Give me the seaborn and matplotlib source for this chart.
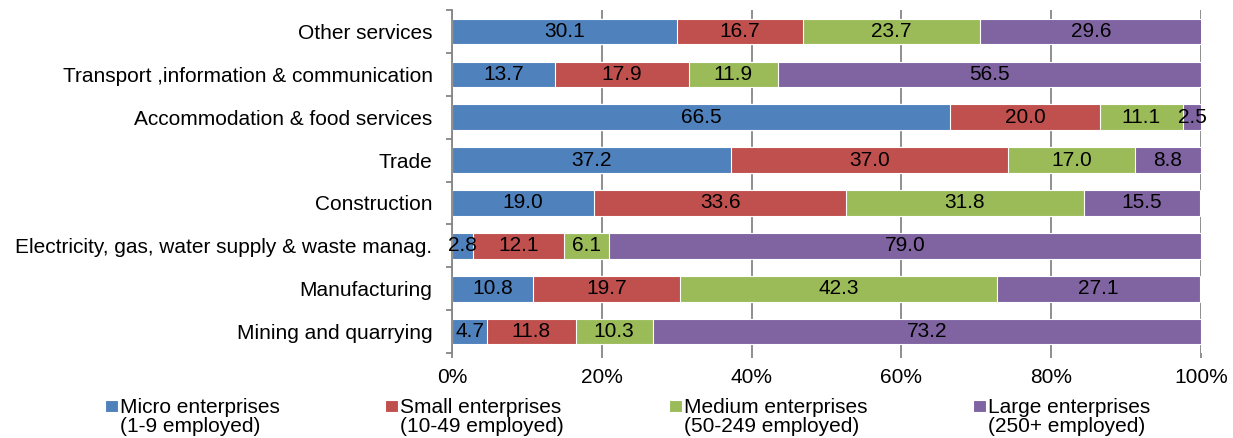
import matplotlib.pyplot as plt
import seaborn as sns
import numpy as np

# sectors, top to bottom as in the chart
sectors = ["Other services",
           "Transport ,information & communication",
           "Accommodation & food services",
           "Trade",
           "Construction",
           "Electricity, gas, water supply & waste manag.",
           "Manufacturing",
           "Mining and quarrying"]

micro = [30.1, 13.7, 66.5, 37.2, 19.0, 2.8, 10.8, 4.7]
small = [16.7, 17.9, 20.0, 37.0, 33.6, 12.1, 19.7, 11.8]
medium = [23.7, 11.9, 11.1, 17.0, 31.8, 6.1, 42.3, 10.3]
large = [29.6, 56.5, 2.5, 8.8, 15.5, 79.0, 27.1, 73.2]

series_labels = ["Micro enterprises\n(1-9 employed)",
                 "Small enterprises\n(10-49 employed)",
                 "Medium enterprises\n(50-249 employed)",
                 "Large enterprises\n(250+ employed)"]
colors = ["#4F81BD", "#C0504D", "#9BBB59", "#8064A2"]

sns.set_theme(style="white")
plt.rcParams['font.family'] = ['Liberation Sans', 'DejaVu Sans']
fs = 15
grey = "#868686"

parts = np.array([micro, small, medium, large])
cum = np.cumsum(parts, axis=0)

fig = plt.figure(figsize=(12.33, 4.38), dpi=100)
ax = fig.add_axes([0.3666, 0.194, 0.6074, 0.783])

# stacked bars: draw cumulative totals, largest first
for i in reversed(range(4)):
    sns.barplot(x=cum[i], y=sectors, orient="h", color=colors[i], width=0.6,
                edgecolor="white", linewidth=0.8, saturation=1, ax=ax,
                label=series_labels[i])

# value labels in the middle of each segment
for i in range(4):
    for j in range(len(sectors)):
        ax.text(cum[i][j] - parts[i][j] / 2, j, "%.1f" % parts[i][j],
                ha="center", va="center", fontsize=fs, color="black")

ax.set_xlim(0, 100)
ax.set_ylim(len(sectors) - 0.5, -0.5)
ax.set_xticks([0, 20, 40, 60, 80, 100])
ax.set_xticklabels(["%d%%" % v for v in [0, 20, 40, 60, 80, 100]], fontsize=fs)
ax.tick_params(axis="x", length=3.8, width=1.3, color=grey, direction="out",
               bottom=True, pad=7, labelcolor="black")
ax.tick_params(axis="y", which="major", length=0, pad=14, labelsize=fs,
               labelcolor="black")
ax.set_yticks(np.arange(-0.5, len(sectors)), minor=True)
ax.tick_params(axis="y", which="minor", length=4.2, width=1.3, color=grey,
               direction="out", left=True)
ax.set_xlabel("")
ax.set_ylabel("")

ax.xaxis.grid(True, color=grey, linewidth=1.3)
ax.set_axisbelow(True)
for s in ["top", "right", "bottom"]:
    ax.spines[s].set_visible(False)
ax.spines["left"].set_color(grey)
ax.spines["left"].set_linewidth(1.3)

handles, labels = ax.get_legend_handles_labels()
if ax.legend_:
    ax.legend_.remove()
leg = fig.legend(handles[::-1], labels[::-1], loc="center left",
                 bbox_to_anchor=(0.077, 0.048), ncol=4, frameon=False,
                 fontsize=fs, handlelength=0.62, handleheight=0.58,
                 handletextpad=0.1, columnspacing=5.05, borderpad=0,
                 labelspacing=0)
for t in leg.get_texts():
    t.set_linespacing(1.05)
    t.set_color("black")
# move the colour squares up to the first text line
for h in leg.legend_handles:
    h.set_y(h.get_y() + 8.0)

fig.savefig("out.png", dpi=100)
plt.close(fig)
